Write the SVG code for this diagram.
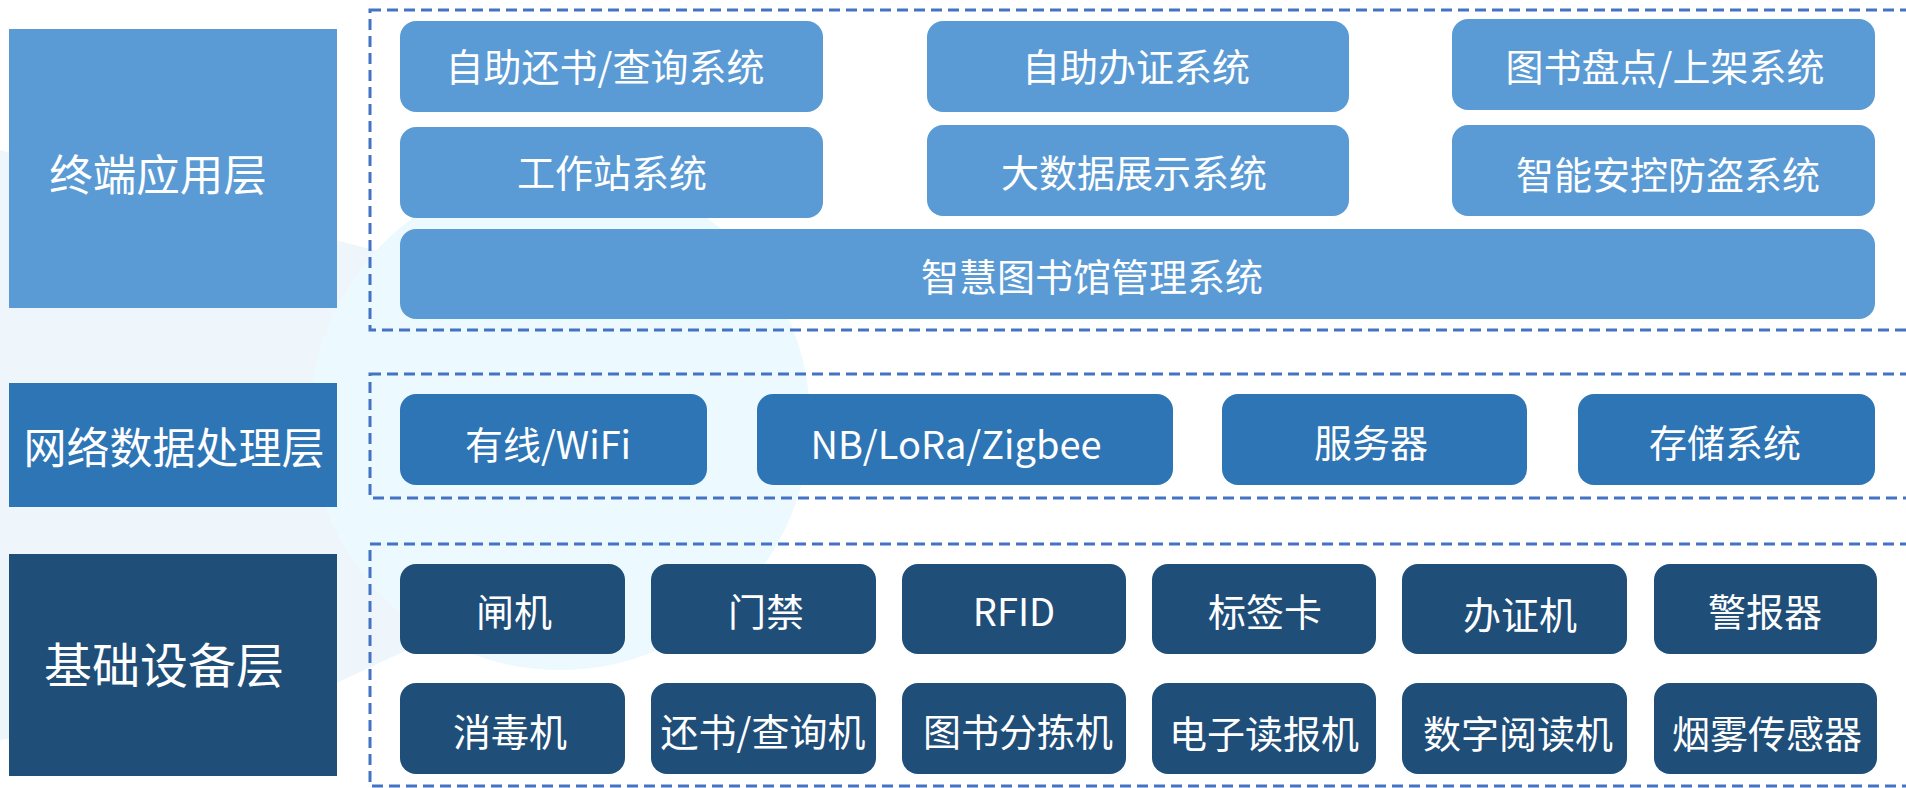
<svg xmlns="http://www.w3.org/2000/svg" width="1906" height="788" viewBox="0 0 1906 788">
<style>
.t{font-family:"Noto Sans CJK SC","Noto Sans",sans-serif;fill:#ffffff;text-anchor:middle;dominant-baseline:central;}
.n{font-size:38px;}
.l1{fill:#5B9BD5;}
.l2{fill:#2E75B6;}
.l3{fill:#1F4E79;}
.dash{fill:none;stroke:#4472C4;stroke-width:3;stroke-dasharray:11 6;}
</style>
<rect width="1906" height="788" fill="#ffffff"/>
<g id="background">
<path d="M0,150 L560,300 L800,400 L600,560 L300,700 L0,740 Z" fill="#eef6fc"/>
<circle cx="560" cy="420" r="250" fill="#ecf9fe"/>
</g>
<g id="containers">
<rect class="dash" x="370" y="10" width="1560" height="320"/>
<rect class="dash" x="370" y="374" width="1560" height="124"/>
<rect class="dash" x="370" y="544" width="1560" height="242"/>
</g>
<g id="layer-terminal">
<rect class="l1" x="9" y="29" width="328" height="279"/>
<text class="t" x="158" y="172" style="font-size:43.5px">终端应用层</text>
</g>
<g id="layer-network">
<rect class="l2" x="9" y="383" width="328" height="124"/>
<text class="t" x="174" y="445" style="font-size:43px">网络数据处理层</text>
</g>
<g id="layer-base">
<rect class="l3" x="9" y="554" width="328" height="222"/>
<text class="t" x="164" y="662" style="font-size:48px">基础设备层</text>
</g>
<g id="n-a1"><rect class="l1" x="400" y="21" width="423" height="91" rx="16"/><text class="t n" x="605" y="64">自助还书/查询系统</text></g>
<g id="n-a2"><rect class="l1" x="927" y="21" width="422" height="91" rx="16"/><text class="t n" x="1136" y="64">自助办证系统</text></g>
<g id="n-a3"><rect class="l1" x="1452" y="19" width="423" height="91" rx="16"/><text class="t n" x="1665" y="64">图书盘点/上架系统</text></g>
<g id="n-a4"><rect class="l1" x="400" y="127" width="423" height="91" rx="16"/><text class="t n" x="612" y="170">工作站系统</text></g>
<g id="n-a5"><rect class="l1" x="927" y="125" width="422" height="91" rx="16"/><text class="t n" x="1134" y="170">大数据展示系统</text></g>
<g id="n-a6"><rect class="l1" x="1452" y="125" width="423" height="91" rx="16"/><text class="t n" x="1668" y="172">智能安控防盗系统</text></g>
<g id="n-a7"><rect class="l1" x="400" y="229" width="1475" height="90" rx="16"/><text class="t n" x="1092" y="274">智慧图书馆管理系统</text></g>
<g id="n-b1"><rect class="l2" x="400" y="394" width="307" height="91" rx="16"/><text class="t n" x="548" y="442">有线/WiFi</text></g>
<g id="n-b2"><rect class="l2" x="757" y="394" width="416" height="91" rx="16"/><text class="t n" x="956" y="442">NB/LoRa/Zigbee</text></g>
<g id="n-b3"><rect class="l2" x="1222" y="394" width="305" height="91" rx="16"/><text class="t n" x="1371" y="440">服务器</text></g>
<g id="n-b4"><rect class="l2" x="1578" y="394" width="297" height="91" rx="16"/><text class="t n" x="1725" y="440">存储系统</text></g>
<g id="n-c1"><rect class="l3" x="400" y="564" width="225" height="90" rx="16"/><text class="t n" x="514" y="609">闸机</text></g>
<g id="n-c2"><rect class="l3" x="651" y="564" width="225" height="90" rx="16"/><text class="t n" x="766" y="609">门禁</text></g>
<g id="n-c3"><rect class="l3" x="902" y="564" width="224" height="90" rx="16"/><text class="t n" x="1014" y="609">RFID</text></g>
<g id="n-c4"><rect class="l3" x="1152" y="564" width="224" height="90" rx="16"/><text class="t n" x="1265" y="609">标签卡</text></g>
<g id="n-c5"><rect class="l3" x="1402" y="564" width="225" height="90" rx="16"/><text class="t n" x="1520" y="612">办证机</text></g>
<g id="n-c6"><rect class="l3" x="1654" y="564" width="223" height="90" rx="16"/><text class="t n" x="1765" y="609">警报器</text></g>
<g id="n-d1"><rect class="l3" x="400" y="683" width="225" height="91" rx="16"/><text class="t n" x="510" y="729">消毒机</text></g>
<g id="n-d2"><rect class="l3" x="651" y="683" width="225" height="91" rx="16"/><text class="t n" x="763" y="729">还书/查询机</text></g>
<g id="n-d3"><rect class="l3" x="902" y="683" width="224" height="91" rx="16"/><text class="t n" x="1018" y="729">图书分拣机</text></g>
<g id="n-d4"><rect class="l3" x="1152" y="683" width="224" height="91" rx="16"/><text class="t n" x="1264" y="731">电子读报机</text></g>
<g id="n-d5"><rect class="l3" x="1402" y="683" width="225" height="91" rx="16"/><text class="t n" x="1518" y="731">数字阅读机</text></g>
<g id="n-d6"><rect class="l3" x="1654" y="683" width="223" height="91" rx="16"/><text class="t n" x="1767" y="731">烟雾传感器</text></g>
<g id="connectors"></g>
</svg>
